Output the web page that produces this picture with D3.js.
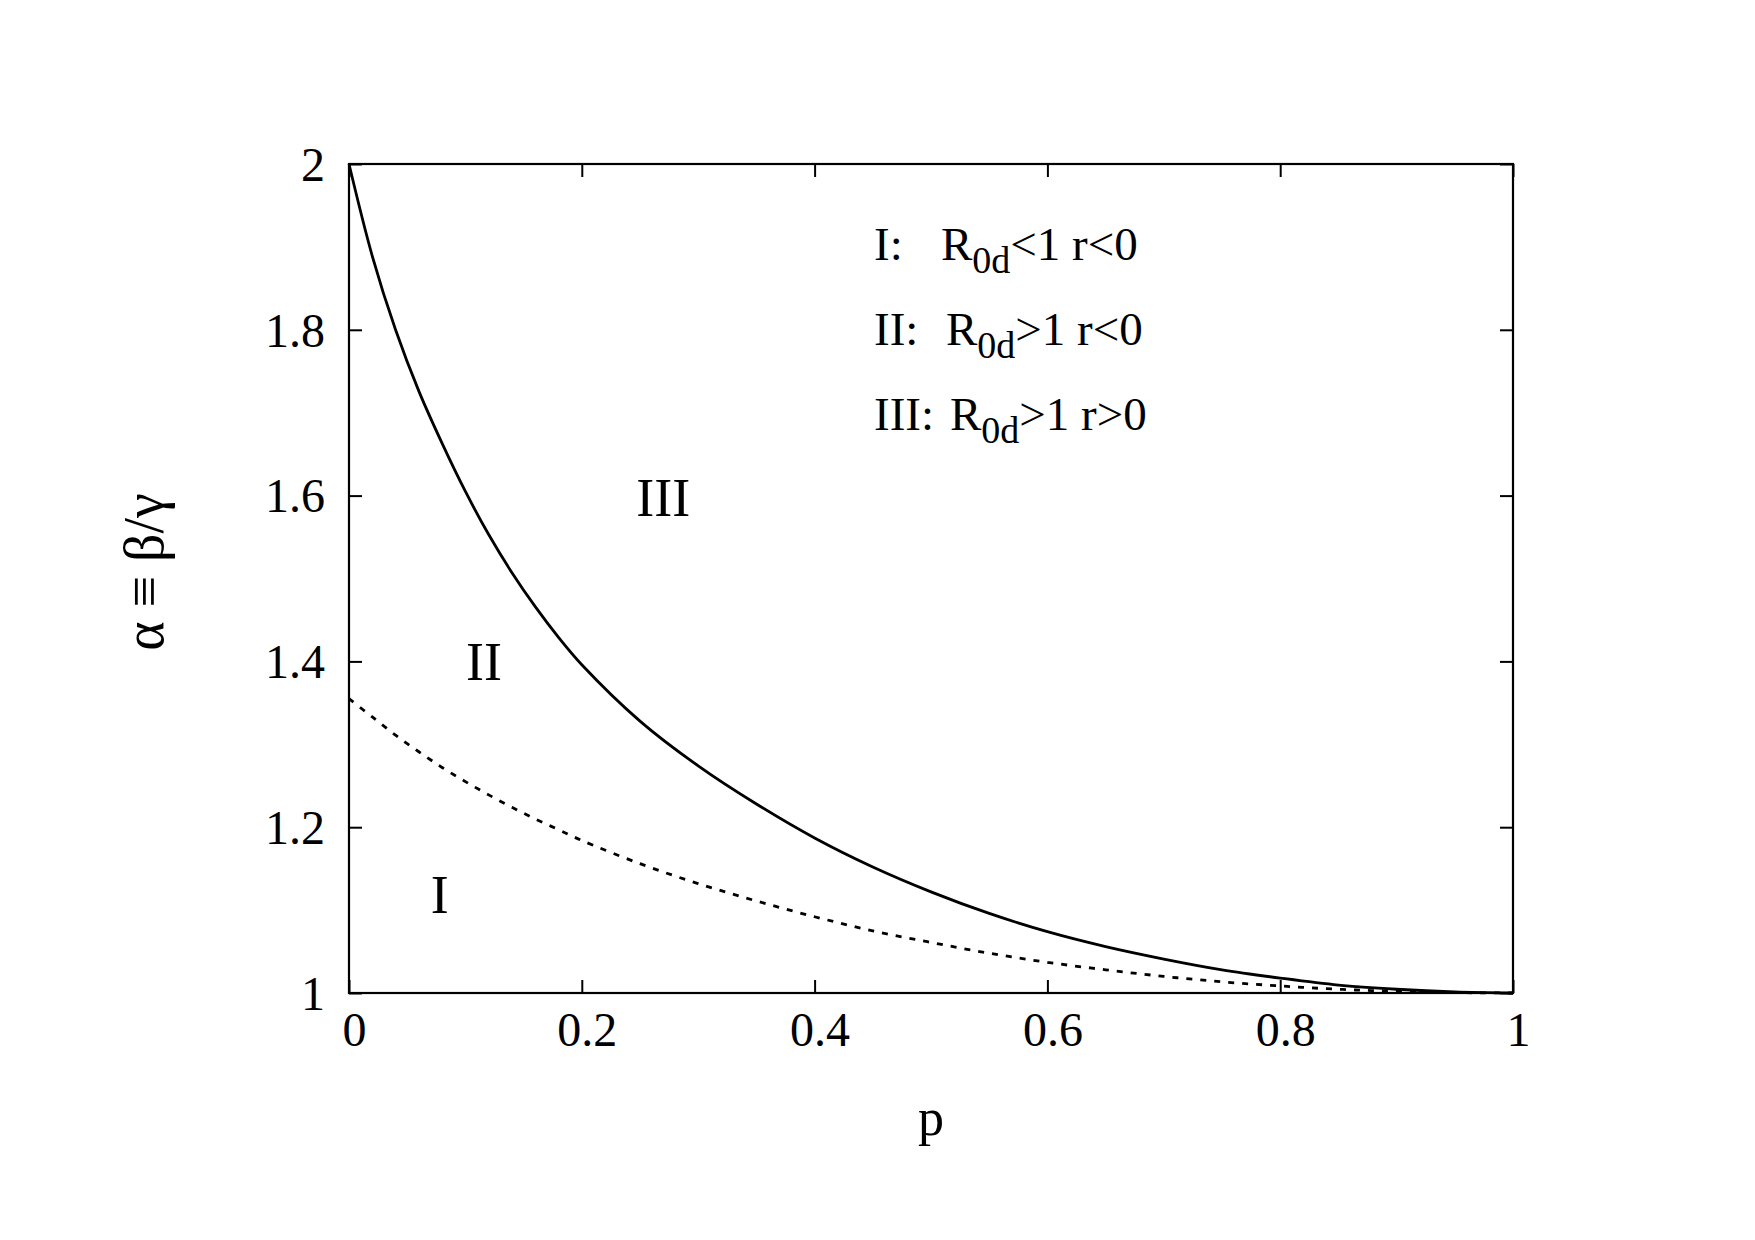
<!DOCTYPE html>
<meta charset="UTF-8">
<style>
body { margin: 0; background: #fff; }
svg { font-family: "Liberation Serif", "Times New Roman", serif; }
.tick line { stroke: #000; stroke-width: 2px; }
.tick text { font-size: 48px; fill: #000; }
.frame { fill: none; stroke: #000; stroke-width: 2.2px; }
.curve { fill: none; stroke: #000; stroke-width: 2.8px; }
.curve.dashed { stroke-dasharray: 6 8; }
.region { font-size: 54px; text-anchor: middle; }
.legend { font-size: 47px; }
</style>
<svg width="1755" height="1240"></svg>
<script src="https://cdnjs.cloudflare.com/ajax/libs/d3/7.8.5/d3.min.js"></script>
<script>
// values
var pValues = [0, 0.02, 0.04, 0.06, 0.08, 0.10, 0.12, 0.14, 0.16, 0.18, 0.20,
               0.25, 0.30, 0.35, 0.40, 0.45, 0.50, 0.55, 0.60, 0.65, 0.70,
               0.75, 0.80, 0.85, 0.90, 0.95, 1.0]
var alphaSolid = [2.0, 1.889, 1.80, 1.726, 1.663, 1.605, 1.553, 1.507, 1.466, 1.429, 1.396,
                  1.328, 1.274, 1.228, 1.187, 1.152, 1.122, 1.096, 1.074, 1.056, 1.041,
                  1.028, 1.018, 1.0095, 1.0045, 1.0013, 1.0]
var alphaDashed = [1.355, 1.333, 1.311, 1.291, 1.272, 1.255, 1.239, 1.224, 1.210, 1.197, 1.184,
                   1.156, 1.132, 1.111, 1.092, 1.075, 1.061, 1.048, 1.037, 1.028, 1.020,
                   1.0135, 1.0085, 1.0045, 1.002, 1.0005, 1.0]
var xTicks = [0, 0.2, 0.4, 0.6, 0.8, 1]
var yTicks = [1, 1.2, 1.4, 1.6, 1.8, 2]
var regionLabels = [{t: "III", p: 0.27, a: 1.575}, {t: "II", p: 0.116, a: 1.377}, {t: "I", p: 0.078, a: 1.097}]
var legendRows = [
  {pre: "I:", rel: "<1 r<0"},
  {pre: "II:", rel: ">1 r<0"},
  {pre: "III:", rel: ">1 r>0"}
]

function draw() {
  var mLeft = 349, mRight = 1513, mTop = 164, mBottom = 993
  var x = d3.scaleLinear().domain([0, 1]).range([mLeft, mRight])
  var y = d3.scaleLinear().domain([1, 2]).range([mBottom, mTop])
  var svg = d3.select("svg")

  var fmt = d => String(+d.toFixed(1))

  // ticks on all four sides, pointing in
  var gb = svg.append("g").attr("transform", "translate(0," + mBottom + ")")
    .call(d3.axisBottom(x).tickValues(xTicks).tickSize(-13).tickPadding(0).tickFormat(fmt))
  gb.selectAll("text").attr("y", 53).attr("dx", 5).attr("dy", 0)
  svg.append("g").attr("transform", "translate(0," + mTop + ")")
    .call(d3.axisTop(x).tickValues(xTicks).tickSize(-13).tickFormat(""))
  var gl = svg.append("g").attr("transform", "translate(" + mLeft + ",0)")
    .call(d3.axisLeft(y).tickValues(yTicks).tickSize(-13).tickFormat(fmt))
  gl.selectAll("text").attr("x", -24).attr("dy", "0.34em")
  svg.append("g").attr("transform", "translate(" + mRight + ",0)")
    .call(d3.axisRight(y).tickValues(yTicks).tickSize(-13).tickFormat(""))
  svg.selectAll(".domain").remove()
  svg.selectAll("g").attr("font-family", null).attr("font-size", null)

  svg.append("rect").attr("class", "frame")
    .attr("x", mLeft).attr("y", mTop).attr("width", mRight - mLeft).attr("height", mBottom - mTop)

  var line = d3.line().x(d => x(d[0])).y(d => y(d[1])).curve(d3.curveCatmullRom.alpha(0.5))
  svg.append("path").attr("class", "curve dashed")
    .attr("d", line(pValues.map((p, i) => [p, alphaDashed[i]])))
  svg.append("path").attr("class", "curve")
    .attr("d", line(pValues.map((p, i) => [p, alphaSolid[i]])))

  svg.selectAll(".region").data(regionLabels).enter().append("text")
    .attr("class", "region")
    .attr("x", d => x(d.p)).attr("y", d => y(d.a))
    .text(d => d.t)

  // legend text block
  var lg = svg.selectAll(".legend").data(legendRows).enter().append("text")
    .attr("class", "legend")
    .attr("y", (d, i) => 260 + i * 85)
  lg.append("tspan").attr("x", 874).text(d => d.pre)
  lg.append("tspan").attr("x", (d, i) => [941, 946, 950][i]).text("R")
  lg.append("tspan").attr("dy", 13).style("font-size", "38px").text("0d")
  lg.append("tspan").attr("dy", -13).text(d => d.rel)

  // axis titles
  svg.append("text").attr("x", 931).attr("y", 1135)
    .style("font-size", "52px").style("text-anchor", "middle").text("p")
  svg.append("text").attr("transform", "translate(163,572) rotate(-90)")
    .style("font-size", "56px").style("text-anchor", "middle").text("α ≡ β/γ")
}
draw()
</script>
